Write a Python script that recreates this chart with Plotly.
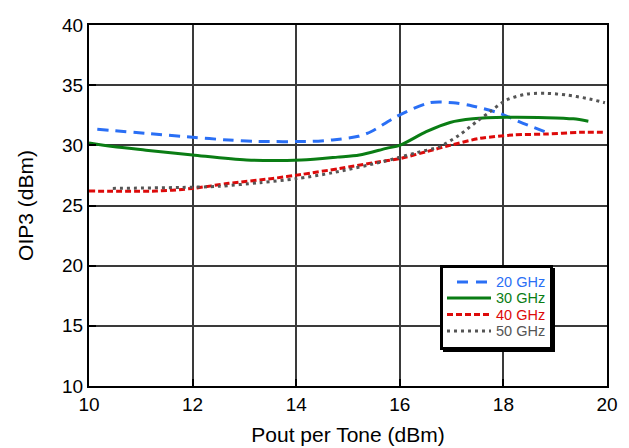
import plotly.graph_objects as go

x20 = [10.16, 11.1, 12.0, 12.7, 13.2, 14.3, 14.7, 15.2, 15.45, 15.94, 16.58, 17.03, 17.4, 17.93, 18.38, 18.85]
y20 = [31.33, 31.0, 30.67, 30.44, 30.33, 30.33, 30.45, 30.75, 31.15, 32.4, 33.54, 33.54, 33.27, 32.66, 31.83, 31.05]

x30 = [10.0, 10.46, 11.1, 12.0, 13.04, 14.1, 14.8, 15.22, 15.74, 16.0, 16.51, 16.97, 17.41, 18.06, 18.83, 19.35, 19.64]
y30 = [30.2, 29.9, 29.6, 29.2, 28.78, 28.78, 29.02, 29.2, 29.75, 30.0, 31.13, 31.9, 32.2, 32.33, 32.3, 32.2, 32.0]

x40 = [10.0, 11.3, 12.0, 12.7, 13.55, 14.1, 14.84, 15.48, 16.0, 16.51, 16.97, 17.55, 18.19, 18.83, 19.48, 19.95]
y40 = [26.2, 26.2, 26.42, 26.84, 27.25, 27.58, 28.08, 28.55, 28.9, 29.47, 30.0, 30.58, 30.86, 30.94, 31.08, 31.08]

x50 = [10.46, 11.75, 12.52, 13.3, 14.0, 14.7, 15.67, 16.32, 16.77, 17.15, 17.48, 17.74, 18.06, 18.45, 18.83, 19.22, 19.61, 19.96]
y50 = [26.42, 26.5, 26.6, 26.9, 27.22, 27.72, 28.64, 29.39, 29.9, 30.86, 31.96, 32.79, 33.77, 34.26, 34.32, 34.18, 33.9, 33.54]

names = ["20 GHz", "30 GHz", "40 GHz", "50 GHz"]
colors = ["#2a6ff5", "#0a7d14", "#dd0a0a", "#555555"]
dashes = ["11px,7px", "solid", "6px,3px", "3px,4px"]
legend_dashes = ["11px,8px", "solid", "6px,3px", "3px,4px"]

xtick_vals = [10, 12, 14, 16, 18, 20]
ytick_vals = [10, 15, 20, 25, 30, 35, 40]

FONT = "Liberation Sans, Arial"
W, H = 629, 448
ML, MR, MT, MB = 89, 22, 25, 62
PW, PH = W - ML - MR, H - MT - MB


def px(xp):
    return (xp - ML) / PW


def py(yp):
    return (H - MB - yp) / PH


fig = go.Figure()
for xs, ys, n, c, d in zip([x20, x30, x40, x50], [y20, y30, y40, y50], names, colors, dashes):
    fig.add_trace(go.Scatter(
        x=xs, y=ys, mode="lines", name=n, showlegend=False,
        line=dict(color=c, width=3, dash=d, shape="spline", smoothing=0.8),
    ))

# legend box with drop shadow
fig.add_shape(type="rect", xref="paper", yref="paper",
              x0=px(443), x1=px(555), y0=py(352), y1=py(268),
              fillcolor="black", line=dict(width=0), layer="above")
fig.add_shape(type="rect", xref="paper", yref="paper",
              x0=px(441.5), x1=px(551.5), y0=py(348.5), y1=py(266.5),
              fillcolor="white", line=dict(color="black", width=3), layer="above")

row_y = [282, 298, 314.5, 331]
for i, (n, c, d) in enumerate(zip(names, colors, legend_dashes)):
    x0 = 457 if i == 0 else 447
    fig.add_shape(type="line", xref="paper", yref="paper",
                  x0=px(x0), x1=px(491), y0=py(row_y[i]), y1=py(row_y[i]),
                  line=dict(color=c, width=3, dash=d), layer="above")
    fig.add_annotation(xref="paper", yref="paper", x=px(494), y=py(row_y[i]),
                       xanchor="left", yanchor="middle", showarrow=False,
                       text=n, font=dict(family=FONT, size=14.5, color=c))

axis_common = dict(
    showgrid=True, gridcolor="#3a3a3a", gridwidth=1.5,
    showline=True, linecolor="black", linewidth=2, mirror=True,
    ticks="inside", ticklen=7, tickwidth=2, tickcolor="black",
    zeroline=False, automargin=False,
    tickfont=dict(family=FONT, size=19, color="black"),
    title_font=dict(family=FONT, size=21, color="black"),
)

fig.update_layout(
    width=W, height=H,
    margin=dict(l=ML, r=MR, t=MT, b=MB),
    paper_bgcolor="white", plot_bgcolor="white",
    xaxis=dict(range=[10, 20], tickvals=xtick_vals, title=dict(text="Pout per Tone (dBm)", standoff=14), **axis_common),
    yaxis=dict(range=[10, 40], tickvals=ytick_vals, title=dict(text="OIP3 (dBm)", standoff=23), **axis_common),
    showlegend=False,
)

fig.write_html("out.html")
